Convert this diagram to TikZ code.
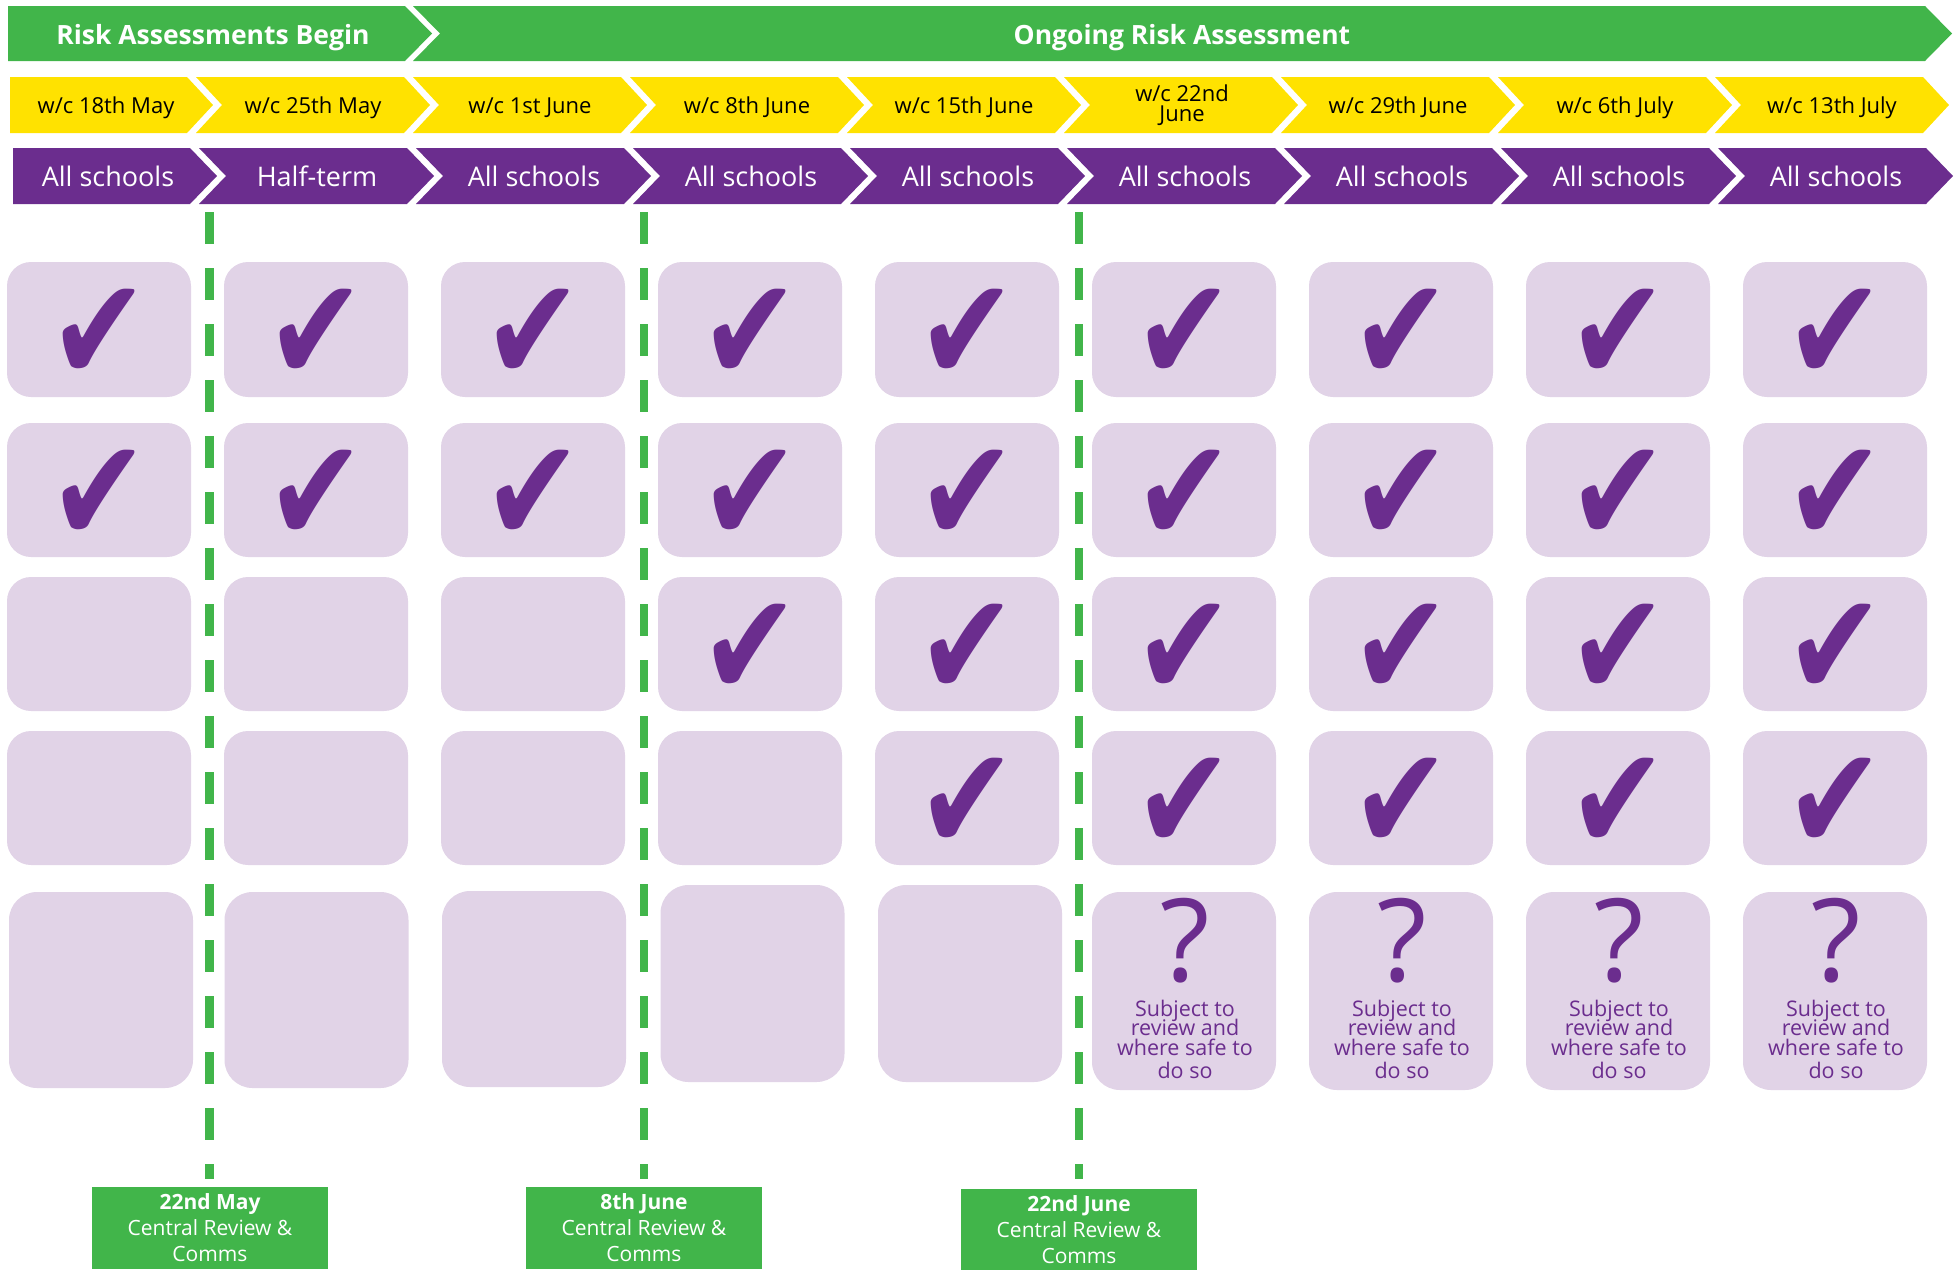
\documentclass[tikz,border=0pt]{standalone}
\usepackage{fontspec}
\setmainfont{Open Sans}
\newfontfamily\dejavu{DejaVu Sans}
\definecolor{gr}{HTML}{41B54A}
\definecolor{yel}{HTML}{FFE200}
\definecolor{pur}{HTML}{6B2D8E}
\definecolor{lil}{HTML}{E1D3E7}
\newcommand\tickmark{\raisebox{-6pt}[\height][\depth]{\scalebox{0.97}[1.2]{✔}}}
\begin{document}
\lineskiplimit=-100pt\relax
\begin{tikzpicture}[x=1pt,y=-1pt,
  hdr/.style={text=white,font=\fontsize{26.5}{30}\selectfont\bfseries,inner sep=0pt},
  ytxt/.style={text=black,font=\fontsize{22}{20.5}\selectfont,inner sep=0pt,align=center},
  ptxt/.style={text=white,font=\fontsize{27}{30}\selectfont,inner sep=0pt},
  cell/.style={fill=lil,rounded corners=24pt,minimum width=184pt,inner sep=0pt,text=pur,
    font=\dejavu\fontsize{122}{122}\selectfont},
  qmark/.style={text=pur,font=\fontsize{115}{115}\selectfont,inner sep=0pt},
  qtxt/.style={text=pur,font=\fontsize{21.5}{19.2}\selectfont,inner sep=0pt,align=center},
  crbox/.style={fill=gr,text=white,minimum width=236pt,minimum height=82pt,inner sep=0pt,
    align=center,font=\fontsize{21}{26}\selectfont},
  gdash/.style={draw=gr,line width=8.5pt,dash pattern=on 32pt off 24pt}]
\useasboundingbox (0,0) rectangle (1954,1269);
% top green banner
\fill[gr] (8,6) -- (405,6) -- (432,33.5) -- (405,61) -- (8,61) -- cycle;
\fill[gr] (413,6) -- (1925,6) -- (1952,33.5) -- (1925,61) -- (413,61) -- (440,33.5) -- cycle;
\node[hdr,anchor=base] (h1) at (213,44) {Risk Assessments Begin};
\node[hdr,anchor=base] (h2) at (1182,44) {Ongoing Risk Assessment};
% yellow week row
\fill[yel] (10,77) -- (187,77) -- (213,105) -- (187,133) -- (10,133) -- cycle;
\foreach \i in {1,...,8}{
  \pgfmathsetmacro\xr{187+217*\i}
  \pgfmathsetmacro\xl{\xr-208}
  \fill[yel] (\xl,77) -- (\xr,77) -- (\xr+26,105) -- (\xr,133) -- (\xl,133) -- (\xl+26,105) -- cycle;
}
% purple row
\fill[pur] (13,148) -- (190,148) -- (217,176) -- (190,204) -- (13,204) -- cycle;
\foreach \i in {1,...,8}{
  \pgfmathsetmacro\xr{190+217*\i}
  \pgfmathsetmacro\xl{\xr-208}
  \fill[pur] (\xl,148) -- (\xr,148) -- (\xr+27,176) -- (\xr,204) -- (\xl,204) -- (\xl+27,176) -- cycle;
}
% week labels
\node[ytxt,anchor=base] (w1) at (106,113) {w/c 18th May};
\node[ytxt,anchor=base] (w2) at (313,113) {w/c 25th May};
\node[ytxt,anchor=base] (w3) at (530,113) {w/c 1st June};
\node[ytxt,anchor=base] (w4) at (747,113) {w/c 8th June};
\node[ytxt,anchor=base] (w5) at (964,113) {w/c 15th June};
\node[ytxt] (w6) at (1182,105) {w/c 22nd\\June};
\node[ytxt,anchor=base] (w7) at (1398,113) {w/c 29th June};
\node[ytxt,anchor=base] (w8) at (1615,113) {w/c 6th July};
\node[ytxt,anchor=base] (w9) at (1832,113) {w/c 13th July};
% school labels
\node[ptxt,anchor=base] (s1) at (108,186.5) {All schools};
\node[ptxt,anchor=base] (s2) at (317,186.5) {Half-term};
\node[ptxt,anchor=base] (s3) at (534,186.5) {All schools};
\node[ptxt,anchor=base] (s4) at (751,186.5) {All schools};
\node[ptxt,anchor=base] (s5) at (968,186.5) {All schools};
\node[ptxt,anchor=base] (s6) at (1185,186.5) {All schools};
\node[ptxt,anchor=base] (s7) at (1402,186.5) {All schools};
\node[ptxt,anchor=base] (s8) at (1619,186.5) {All schools};
\node[ptxt,anchor=base] (s9) at (1836,186.5) {All schools};
% dashed review lines
\coordinate (d1t) at (209.5,212); \coordinate (d1b) at (209.5,1179);
\coordinate (d2t) at (644,212);   \coordinate (d2b) at (644,1179);
\coordinate (d3t) at (1079,212);  \coordinate (d3b) at (1079,1179);
\draw[gdash] (d1t) -- (d1b);
\draw[gdash] (d2t) -- (d2b);
\draw[gdash] (d3t) -- (d3b);
% rows 1-2: all ticked
\foreach \j in {0,...,8}{
  \pgfmathsetmacro\xc{99+217*\j}
  \node[cell,minimum height=135pt] (r1c\j) at (\xc,329.5) {\tickmark};
  \node[cell,minimum height=134pt] (r2c\j) at (\xc,490) {\tickmark};
}
% row 3
\foreach \j in {0,1,2}{
  \pgfmathsetmacro\xc{99+217*\j}
  \node[cell,minimum height=134pt] (r3c\j) at (\xc,644) {};
}
\foreach \j in {3,...,8}{
  \pgfmathsetmacro\xc{99+217*\j}
  \node[cell,minimum height=134pt] (r3c\j) at (\xc,644) {\tickmark};
}
% row 4
\foreach \j in {0,...,3}{
  \pgfmathsetmacro\xc{99+217*\j}
  \node[cell,minimum height=134pt] (r4c\j) at (\xc,798) {};
}
\foreach \j in {4,...,8}{
  \pgfmathsetmacro\xc{99+217*\j}
  \node[cell,minimum height=134pt] (r4c\j) at (\xc,798) {\tickmark};
}
% row 5
\node[cell,rounded corners=28pt,minimum height=196pt] (r5c0) at (101,990) {};
\node[cell,rounded corners=28pt,minimum height=196pt] (r5c1) at (316.5,990) {};
\node[cell,rounded corners=28pt,minimum height=196pt] (r5c2) at (534,989) {};
\node[cell,rounded corners=28pt,minimum height=197pt] (r5c3) at (752.5,983.5) {};
\node[cell,rounded corners=28pt,minimum height=197pt] (r5c4) at (970,983.5) {};
\foreach \j in {5,...,8}{
  \pgfmathsetmacro\xc{99+217*\j}
  \node[cell,rounded corners=28pt,minimum height=198pt] (r5c\j) at (\xc,991) {};
  \node[qmark] (q\j) at (\xc+1,941) {?};
  \node[qtxt] (t\j) at (\xc+1,1039.5) {Subject to\\review and\\where safe to\\[4pt]do so};
}
% central review boxes
\node[crbox] (cr1) at (210,1228) {\textbf{22nd May}\\Central Review \&\\Comms};
\node[crbox] (cr2) at (644,1228) {\textbf{8th June}\\Central Review \&\\Comms};
\node[crbox] (cr3) at (1079,1229.5) {\textbf{22nd June}\\Central Review \&\\Comms};
\end{tikzpicture}
\end{document}
